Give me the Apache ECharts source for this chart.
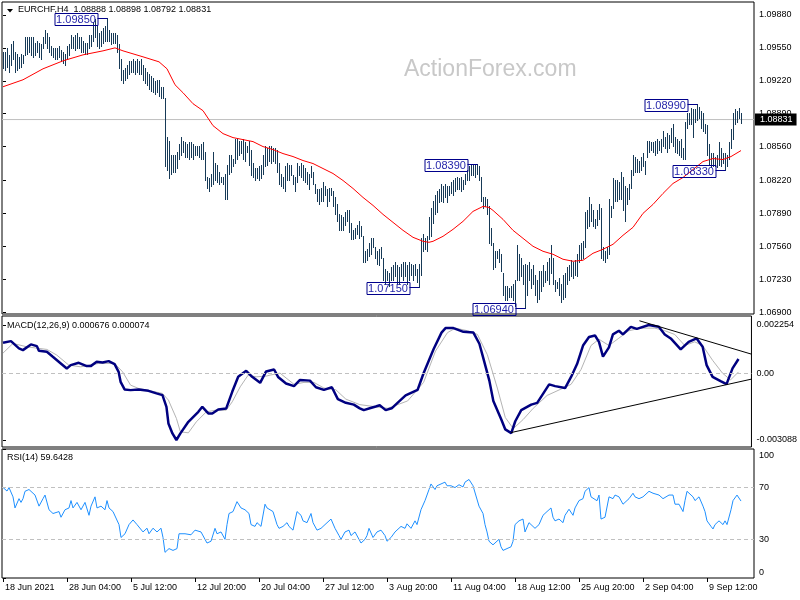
<!DOCTYPE html>
<html><head><meta charset="utf-8">
<script src="https://cdn.jsdelivr.net/npm/echarts@6/dist/echarts.min.js"></script>
<style>html,body{margin:0;padding:0;background:#fff}#chart{width:800px;height:600px}</style>
</head><body><div id="chart"></div>
<script>
// ---------------- DATA ----------------
const symbolName = 'EURCHF,H4';
const lastQuote = [1.08888, 1.08898, 1.08792, 1.08831]; // open high low close of last bar
const highs = [
1.0951,1.0951,1.0955,1.0948,1.0959,1.0962,1.0951,1.0949,1.0946,1.0949,
1.0948,1.0966,1.0966,1.0966,1.0966,1.0966,1.0960,1.0962,1.0960,1.0959,
1.0966,1.0973,1.0970,1.0966,1.0957,1.0955,1.0955,1.0955,1.0957,1.0953,
1.0951,1.0949,1.0957,1.0959,1.0968,1.0966,1.0968,1.0970,1.0966,1.0966,
1.0962,1.0960,1.0960,1.0968,1.0968,1.0981,1.0984,1.0977,1.0970,1.0972,
1.0975,1.0977,1.0985,1.0973,1.0970,1.0970,1.0970,1.0968,1.0959,1.0944,
1.0933,1.0935,1.0938,1.0942,1.0942,1.0944,1.0942,1.0944,1.0942,1.0944,
1.0938,1.0935,1.0931,1.0929,1.0927,1.0925,1.0922,1.0923,1.0923,1.0916,
1.0916,1.0905,1.0866,1.0862,1.0848,1.0848,1.0848,1.0851,1.0859,1.0866,
1.0862,1.0861,1.0859,1.0861,1.0861,1.0859,1.0857,1.0857,1.0857,1.0859,
1.0861,1.0851,1.0825,1.0824,1.0829,1.0851,1.0840,1.0838,1.0831,1.0825,
1.0825,1.0829,1.0838,1.0848,1.0848,1.0844,1.0864,1.0864,1.0862,1.0862,
1.0864,1.0861,1.0857,1.0862,1.0853,1.0840,1.0835,1.0835,1.0837,1.0838,
1.0848,1.0857,1.0855,1.0857,1.0857,1.0855,1.0855,1.0853,1.0840,1.0829,
1.0825,1.0837,1.0840,1.0838,1.0838,1.0827,1.0825,1.0840,1.0837,1.0840,
1.0838,1.0835,1.0831,1.0829,1.0837,1.0831,1.0818,1.0813,1.0813,1.0814,
1.0820,1.0816,1.0813,1.0814,1.0814,1.0811,1.0805,1.0798,1.0788,1.0787,
1.0785,1.0790,1.0792,1.0792,1.0779,1.0772,1.0774,1.0777,1.0781,1.0776,
1.0766,1.0751,1.0753,1.0759,1.0764,1.0764,1.0755,1.0751,1.0753,1.0755,
1.0744,1.0733,1.0731,1.0729,1.0735,1.0737,1.0740,1.0737,1.0735,1.0738,
1.0740,1.0740,1.0737,1.0740,1.0738,1.0737,1.0738,1.0733,1.0738,1.0764,
1.0768,1.0764,1.0766,1.0785,1.0794,1.0801,1.0807,1.0811,1.0813,1.0818,
1.0816,1.0818,1.0816,1.0816,1.0820,1.0822,1.0824,1.0825,1.0824,1.0825,
1.0822,1.0829,1.0833,1.0837,1.0838,1.0838,1.0838,1.0839,1.0837,1.0825,
1.0805,1.0805,1.0803,1.0796,1.0774,1.0759,1.0751,1.0751,1.0753,1.0748,
1.0729,1.0716,1.0716,1.0714,1.0716,1.0718,1.0722,1.0757,1.0748,1.0744,
1.0737,1.0738,1.0737,1.0740,1.0733,1.0737,1.0727,1.0722,1.0731,1.0731,
1.0737,1.0731,1.0740,1.0744,1.0757,1.0744,1.0722,1.0720,1.0724,1.0718,
1.0727,1.0729,1.0735,1.0737,1.0742,1.0740,1.0742,1.0748,1.0757,1.0759,
1.0761,1.0790,1.0792,1.0805,1.0798,1.0792,1.0783,1.0792,1.0798,1.0794,
1.0755,1.0751,1.0755,1.0803,1.0796,1.0824,1.0822,1.0822,1.0820,1.0831,
1.0825,1.0816,1.0814,1.0818,1.0833,1.0848,1.0846,1.0844,1.0842,1.0846,
1.0850,1.0842,1.0862,1.0862,1.0861,1.0861,1.0862,1.0864,1.0862,1.0864,
1.0872,1.0866,1.0870,1.0868,1.0875,1.0879,1.0866,1.0864,1.0862,1.0864,
1.0855,1.0881,1.0890,1.0890,1.0895,1.0894,1.0894,1.0899,1.0896,1.0892,
1.0890,1.0879,1.0878,1.0859,1.0850,1.0850,1.0846,1.0848,1.0861,1.0855,
1.0850,1.0850,1.0848,1.0861,1.0874,1.0890,1.0894,1.0892,1.0895,1.08898
];
const lows = [
1.0935,1.0933,1.0936,1.0931,1.0938,1.0944,1.0931,1.0933,1.0935,1.0936,
1.0940,1.0948,1.0949,1.0951,1.0948,1.0946,1.0948,1.0951,1.0946,1.0944,
1.0955,1.0960,1.0955,1.0951,1.0948,1.0946,1.0944,1.0944,1.0946,1.0942,
1.0940,1.0938,1.0944,1.0948,1.0955,1.0955,1.0953,1.0955,1.0955,1.0951,
1.0951,1.0949,1.0949,1.0955,1.0957,1.0962,1.0966,1.0957,1.0955,1.0957,
1.0960,1.0962,1.0962,1.0962,1.0959,1.0960,1.0960,1.0951,1.0935,1.0923,
1.0920,1.0923,1.0925,1.0929,1.0931,1.0931,1.0929,1.0931,1.0929,1.0929,
1.0923,1.0920,1.0918,1.0914,1.0912,1.0911,1.0909,1.0911,1.0907,1.0905,
1.0905,1.0837,1.0833,1.0824,1.0829,1.0831,1.0831,1.0835,1.0844,1.0848,
1.0851,1.0846,1.0846,1.0844,1.0846,1.0844,1.0848,1.0848,1.0846,1.0844,
1.0844,1.0822,1.0814,1.0811,1.0816,1.0818,1.0822,1.0820,1.0818,1.0820,
1.0818,1.0803,1.0803,1.0829,1.0831,1.0837,1.0840,1.0844,1.0848,1.0850,
1.0844,1.0842,1.0851,1.0838,1.0827,1.0825,1.0822,1.0824,1.0822,1.0824,
1.0829,1.0837,1.0838,1.0842,1.0840,1.0842,1.0840,1.0831,1.0818,1.0816,
1.0814,1.0811,1.0822,1.0822,1.0827,1.0818,1.0811,1.0820,1.0827,1.0825,
1.0822,1.0820,1.0818,1.0813,1.0825,1.0818,1.0809,1.0801,1.0798,1.0801,
1.0801,1.0807,1.0796,1.0801,1.0807,1.0796,1.0788,1.0781,1.0772,1.0772,
1.0772,1.0777,1.0781,1.0770,1.0763,1.0763,1.0764,1.0768,1.0764,1.0766,
1.0740,1.0740,1.0742,1.0746,1.0748,1.0755,1.0744,1.0738,1.0737,1.0744,
1.0722,1.0718,1.0722,1.0716,1.0722,1.0722,1.0726,1.0718,1.0718,1.0726,
1.0722,1.0726,1.0718,1.0722,1.0727,1.0722,1.0727,1.0720,1.0715,1.0727,
1.0751,1.0753,1.0751,1.0763,1.0766,1.0779,1.0788,1.0790,1.0800,1.0801,
1.0800,1.0805,1.0800,1.0807,1.0809,1.0807,1.0811,1.0813,1.0813,1.0811,
1.0813,1.0818,1.0822,1.0822,1.0827,1.0827,1.0825,1.0829,1.0822,1.0801,
1.0794,1.0796,1.0788,1.0759,1.0757,1.0733,1.0735,1.0744,1.0740,1.0731,
1.0707,1.0702,1.0702,1.0705,1.0705,1.0702,1.0696,1.0722,1.0722,1.0726,
1.0718,1.0694,1.0707,1.0722,1.0714,1.0718,1.0707,1.0700,1.0703,1.0711,
1.0716,1.0720,1.0722,1.0718,1.0729,1.0718,1.0711,1.0714,1.0707,1.0700,
1.0703,1.0705,1.0718,1.0722,1.0726,1.0724,1.0727,1.0726,1.0740,1.0742,
1.0744,1.0755,1.0774,1.0776,1.0781,1.0776,1.0774,1.0777,1.0783,1.0744,
1.0742,1.0740,1.0744,1.0748,1.0785,1.0794,1.0801,1.0801,1.0803,1.0803,
1.0792,1.0781,1.0798,1.0803,1.0814,1.0827,1.0831,1.0831,1.0831,1.0833,
1.0837,1.0829,1.0846,1.0851,1.0853,1.0851,1.0848,1.0850,1.0853,1.0851,
1.0857,1.0855,1.0851,1.0855,1.0861,1.0857,1.0851,1.0850,1.0848,1.0846,
1.0844,1.0844,1.0875,1.0879,1.0879,1.0866,1.0881,1.0883,1.0885,1.0875,
1.0872,1.0870,1.0848,1.0838,1.0836,1.0837,1.0837,1.0836,1.0838,1.0837,
1.0840,1.0833,1.0837,1.0844,1.0855,1.0864,1.0879,1.0881,1.0885,1.08792
];
// moving average (red), [bar index, price]
const maPoints = [[0,1.0916],[10,1.0923],[20,1.0934],[30,1.0942],[40,1.0948],[50,1.0952],[56,1.0955],[60,1.0952],[70,1.0946],[78,1.0941],[82,1.0934],[86,1.0918],[90,1.0910],[95,1.0899],[100,1.0892],[105,1.0877],[110,1.0869],[115,1.0865],[120,1.0863],[125,1.0861],[130,1.0856],[135,1.0853],[140,1.0849],[145,1.0846],[150,1.0842],[155,1.0839],[160,1.0834],[165,1.0829],[170,1.0822],[175,1.0814],[180,1.0805],[185,1.0797],[190,1.0788],[195,1.0780],[200,1.0772],[205,1.0765],[210,1.0761],[213,1.0760],[215,1.0761],[220,1.0766],[225,1.0773],[230,1.0781],[235,1.0791],[240,1.0796],[243,1.0795],[245,1.0792],[250,1.0783],[255,1.0772],[260,1.0764],[265,1.0756],[270,1.0751],[275,1.0748],[280,1.0743],[285,1.0741],[290,1.0742],[295,1.0749],[300,1.0753],[305,1.0758],[310,1.0767],[315,1.0775],[320,1.0789],[325,1.0798],[330,1.0809],[335,1.0819],[340,1.0825],[345,1.0833],[350,1.0841],[355,1.0844],[360,1.0843],[364,1.0846],[369,1.0852]];
// MACD main and signal, [bar index, value]
const macdMain = [[0,0.001426],[4,0.001505],[8,0.001166],[10,0.001087],[14,0.001352],[17,0.001273],[18,0.001054],[22,0.001008],[25,0.000776],[29,0.000469],[32,0.000237],[34,0.000390],[38,0.000497],[42,0.000344],[44,0.000344],[47,0.000543],[50,0.000516],[53,0.000576],[56,0.000437],[58,0.000079],[59,-0.000386],[61,-0.000739],[64,-0.000771],[68,-0.000739],[73,-0.000804],[77,-0.000924],[80,-0.001003],[82,-0.001547],[83,-0.002318],[85,-0.002782],[87,-0.003088],[89,-0.002782],[93,-0.002244],[98,-0.001779],[100,-0.001547],[103,-0.001853],[105,-0.001853],[108,-0.001668],[112,-0.001621],[115,-0.000850],[118,-0.000153],[122,0.000125],[125,-0.000153],[129,-0.000432],[132,0.000098],[136,0.000186],[138,-0.000158],[142,-0.000465],[146,-0.000585],[149,-0.000297],[154,-0.000330],[157,-0.000636],[161,-0.000757],[165,-0.000636],[168,-0.001189],[172,-0.001361],[176,-0.001445],[179,-0.001616],[181,-0.001700],[184,-0.001616],[187,-0.001533],[189,-0.001477],[192,-0.001700],[195,-0.001616],[199,-0.001273],[202,-0.001017],[208,-0.000757],[211,0.000014],[216,0.001129],[220,0.001900],[222,0.002109],[226,0.002109],[231,0.001937],[236,0.001900],[239,0.001384],[241,0.000701],[244,-0.000330],[246,-0.001273],[250,-0.002132],[252,-0.002597],[255,-0.002768],[257,-0.002216],[260,-0.001700],[265,-0.001445],[268,-0.001361],[274,-0.000502],[277,-0.000585],[282,-0.000674],[285,-0.000158],[288,0.000441],[291,0.001301],[294,0.001695],[297,0.001765],[299,0.001472],[301,0.000785],[304,0.001217],[306,0.001816],[309,0.001988],[311,0.001816],[315,0.002169],[318,0.002072],[324,0.002254],[329,0.002169],[332,0.001816],[335,0.001630],[340,0.001119],[344,0.001472],[348,0.001630],[351,0.001240],[353,0.000390],[356,-0.000153],[360,-0.000353],[363,-0.000492],[366,0.000237],[369,0.000676]];
const macdSignal = [[0,0.000948],[5,0.001398],[12,0.001240],[22,0.001119],[27,0.000855],[33,0.000390],[39,0.000311],[48,0.000469],[56,0.000469],[60,0.000079],[64,-0.000539],[68,-0.000692],[80,-0.000924],[83,-0.001236],[87,-0.002086],[89,-0.002708],[93,-0.002754],[97,-0.002244],[102,-0.001779],[107,-0.001700],[112,-0.001700],[115,-0.001315],[119,-0.000618],[123,-0.000074],[127,-0.000153],[132,-0.000121],[134,-0.000074],[139,0.000019],[146,-0.000502],[151,-0.000413],[156,-0.000413],[161,-0.000674],[167,-0.000757],[172,-0.001189],[179,-0.001445],[186,-0.001533],[193,-0.001616],[203,-0.001273],[211,-0.000413],[217,0.001045],[223,0.001900],[227,0.002109],[233,0.001988],[238,0.001816],[243,0.000873],[248,-0.000674],[252,-0.002044],[256,-0.002559],[261,-0.002132],[266,-0.001616],[273,-0.001017],[282,-0.000636],[285,-0.000502],[290,0.000186],[295,0.001301],[299,0.001593],[304,0.001301],[309,0.001644],[314,0.001988],[320,0.002109],[327,0.002109],[332,0.001988],[337,0.001816],[342,0.001301],[347,0.001472],[351,0.001301],[356,0.000613],[361,0.000014],[365,-0.000297],[369,0.000074]];
const macdTrendUpper = [[319.3,0.00245],[375.5,0.0009]];
const macdTrendLower = [[254.8,-0.002745],[375.5,-0.00026]];
// RSI(14), [bar index, value]
const rsiPoints = [[0,70.2],[2,67.4],[3,70.1],[4,68.6],[5,62.9],[6,54.3],[8,61.5],[9,58.6],[10,61.5],[11,67.2],[13,68.6],[14,67.2],[16,64.3],[17,65.7],[18,55.7],[20,61.5],[21,64.3],[23,52.9],[25,50.0],[28,51.5],[29,47.1],[31,52.9],[33,54.3],[34,60.0],[35,54.3],[37,58.6],[39,52.9],[41,58.6],[43,48.6],[44,55.7],[46,62.9],[47,54.3],[49,55.7],[51,52.9],[52,60.0],[53,54.3],[55,51.5],[56,52.9],[58,41.4],[59,31.4],[61,34.3],[63,41.4],[64,42.9],[65,45.0],[67,41.4],[68,42.9],[70,35.7],[72,38.6],[73,34.3],[75,38.6],[77,35.7],[79,38.6],[80,31.4],[81,19.9],[83,22.8],[85,21.4],[87,22.8],[88,34.3],[91,34.3],[92,35.4],[94,33.5],[96,37.1],[99,35.7],[100,34.3],[102,27.1],[103,25.7],[104,28.5],[106,38.5],[107,34.3],[109,35.7],[111,30.0],[112,41.4],[113,50.0],[115,51.5],[117,59.2],[119,54.3],[121,52.9],[123,50.0],[124,41.4],[126,40.0],[127,42.9],[129,40.0],[131,57.2],[132,54.3],[135,51.5],[137,41.4],[138,38.5],[140,40.0],[142,42.9],[143,40.0],[145,37.1],[147,51.5],[149,48.6],[150,44.3],[152,42.9],[154,50.0],[155,42.9],[157,37.1],[159,38.5],[161,41.4],[162,40.0],[164,45.7],[166,38.5],[168,32.9],[169,30.0],[171,35.7],[173,37.1],[174,32.9],[176,35.7],[177,34.3],[179,27.1],[181,30.0],[182,32.9],[183,38.5],[185,31.4],[187,35.7],[189,37.1],[191,32.9],[192,28.5],[194,31.4],[196,35.7],[197,34.3],[199,40.0],[201,38.5],[202,42.0],[204,38.5],[206,44.3],[207,41.4],[208,41.0],[209,53.0],[211,60.0],[213,68.6],[214,72.9],[216,68.6],[217,71.5],[219,72.9],[221,74.3],[222,71.5],[224,71.5],[225,72.9],[226,70.1],[228,72.3],[230,70.6],[231,74.3],[233,76.4],[235,71.5],[236,72.9],[238,55.7],[240,50.0],[241,41.4],[242,35.7],[243,28.5],[245,25.7],[246,27.1],[248,30.0],[249,24.2],[250,21.4],[252,22.8],[254,24.2],[255,28.5],[256,41.4],[258,44.3],[259,43.7],[260,45.7],[261,35.7],[263,42.9],[264,41.4],[266,38.5],[268,41.4],[270,48.6],[271,47.1],[272,51.5],[274,54.3],[275,47.1],[276,44.3],[278,45.7],[280,42.9],[281,48.6],[283,53.3],[285,48.6],[286,54.3],[288,60.0],[290,61.5],[291,67.2],[293,70.1],[294,62.9],[295,64.3],[297,59.9],[298,64.3],[299,45.7],[301,47.1],[303,62.9],[305,61.5],[306,64.3],[308,62.9],[310,57.2],[311,58.6],[313,61.5],[315,65.7],[316,62.9],[318,61.5],[320,62.9],[321,64.3],[323,67.2],[325,65.7],[326,64.3],[328,64.3],[330,61.5],[331,61.5],[333,64.3],[335,64.3],[336,57.2],[338,57.2],[340,51.5],[341,60.0],[342,67.2],[343,67.2],[345,62.9],[346,60.0],[348,62.9],[350,55.7],[351,51.5],[352,44.3],[354,40.0],[355,38.0],[356,41.4],[358,44.3],[360,41.4],[361,44.3],[362,41.4],[364,52.9],[365,60.0],[367,64.3],[368,62.9],[369,59.6428]];
const rsiLast = 59.6428;
const macdLast = [0.000676, 0.000074];
const rsiLevels = [30, 70];
// marked extremes [bar index, price]
const extremes = [[52,1.0985],[208,1.0715],[237,1.0839],[261,1.0694],[347,1.0899],[361,1.0833]];
// axes ticks
const priceTicks = [1.0690,1.0723,1.0756,1.0789,1.0822,1.0856,1.0889,1.0922,1.0955,1.0988];
const macdTicks = [-0.003088, 0, 0.002254];
const rsiTicks = [0, 30, 70, 100];
const xTickIndex = [0,32,64,96,128,160,192,224,256,288,320,352];
const xTickLabels = ['18 Jun 2021','28 Jun 04:00','5 Jul 12:00','12 Jul 20:00','20 Jul 04:00','27 Jul 12:00','3 Aug 20:00','11 Aug 04:00','18 Aug 12:00','25 Aug 20:00','2 Sep 04:00','9 Sep 12:00'];

// ---------------- CHART ----------------
const FONT = '"Liberation Sans", Arial, sans-serif';
const BAR = '#173a57';
const PRICE_RANGE = [1.06881, 1.10010];
const MACD_RANGE = [-0.003413, 0.002672];
const X_RANGE = [-0.5, 375.5];

function xAxisFor(g, show) {
  return {
    type: 'value', gridIndex: g, min: X_RANGE[0], max: X_RANGE[1],
    axisLine: {show: false}, splitLine: {show: false},
    axisTick: {show: show, customValues: xTickIndex, length: 4, lineStyle: {color: '#000'}},
    axisLabel: {show: show, customValues: xTickIndex, align: 'left', margin: 5, padding: [0,0,0,2],
      color: '#000', fontSize: 9, fontFamily: FONT,
      formatter: v => { const k = xTickIndex.indexOf(Math.round(v)); return k >= 0 ? xTickLabels[k] : ''; }}
  };
}
function yAxisFor(g, range, ticks, fmt, labelExtra) {
  return {
    type: 'value', gridIndex: g, position: 'right', min: range[0], max: range[1], scale: true,
    axisLine: {show: false}, splitLine: {show: false},
    axisTick: {show: true, customValues: ticks, length: 3, lineStyle: {color: '#000'}},
    axisLabel: Object.assign({customValues: ticks, formatter: fmt, margin: 5, color: '#000', fontSize: 9, fontFamily: FONT}, labelExtra || {})
  };
}

const barData = highs.map((h, i) => [i, lows[i], h]);

const chart = echarts.init(document.getElementById('chart'), null, {renderer: 'canvas'});
chart.setOption({
  animation: false,
  backgroundColor: '#fff',
  grid: [
    {left: 2, top: 2, width: 752, height: 312, show: true, borderColor: '#000', borderWidth: 1},
    {left: 2, top: 316, width: 752, height: 131, show: true, borderColor: '#000', borderWidth: 1},
    {left: 2, top: 449, width: 752, height: 129, show: true, borderColor: '#000', borderWidth: 1}
  ],
  xAxis: [xAxisFor(0, false), xAxisFor(1, false), xAxisFor(2, true)],
  yAxis: [
    yAxisFor(0, PRICE_RANGE, priceTicks, v => v.toFixed(5)),
    yAxisFor(1, MACD_RANGE, macdTicks, v => (Math.abs(v) < 1e-12 ? '0.00' : v.toFixed(6))),
    yAxisFor(2, [0, 100], rsiTicks, v => {
      const r = Math.round(v);
      if (r === 100) return '{t|100}';
      if (r === 0) return '{b|0}';
      return String(r);
    }, {rich: {
      t: {padding: [13, 0, 0, 0], fontSize: 9, fontFamily: FONT, color: '#000'},
      b: {padding: [0, 0, 11, 0], fontSize: 9, fontFamily: FONT, color: '#000'}
    }}),
    {type: 'value', gridIndex: 0, position: 'right', min: PRICE_RANGE[0], max: PRICE_RANGE[1], scale: true,
     axisLine: {show: false}, splitLine: {show: false}, axisTick: {show: false},
     axisLabel: {customValues: [lastQuote[3]], formatter: v => v.toFixed(5), margin: 1,
       color: '#fff', backgroundColor: '#000', padding: [2, 4, 1, 5], fontSize: 9, fontFamily: FONT}}
  ],
  graphic: [
    {type: 'text', x: 404, y: 70, z: -10, silent: true,
     style: {text: 'ActionForex.com', fill: '#c8c8c8', font: '23px ' + FONT, verticalAlign: 'middle'}},
    {type: 'polygon', shape: {points: [[7, 9], [13, 9], [10, 12.5]]}, style: {fill: '#000'}},
    {type: 'text', x: 18, y: 10,
     style: {text: symbolName + '  ' + lastQuote.map(v => v.toFixed(5)).join(' '), fill: '#000', font: '9px ' + FONT, verticalAlign: 'middle'}},
    {type: 'text', x: 7, y: 326,
     style: {text: 'MACD(12,26,9) ' + macdLast.map(v => v.toFixed(6)).join(' '), fill: '#000', font: '9px ' + FONT, verticalAlign: 'middle'}},
    {type: 'text', x: 7, y: 458,
     style: {text: 'RSI(14) ' + rsiLast.toFixed(4), fill: '#000', font: '9px ' + FONT, verticalAlign: 'middle'}}
  ],
  series: [
    {
      type: 'line', name: 'lastPrice', xAxisIndex: 0, yAxisIndex: 0, silent: true, showSymbol: false,
      data: [[X_RANGE[0], lastQuote[3]], [X_RANGE[1], lastQuote[3]]],
      lineStyle: {color: '#c0c0c0', width: 1}, z: 1
    },
    {
      type: 'custom', name: 'bars', xAxisIndex: 0, yAxisIndex: 0, data: barData, silent: true,
      encode: {x: 0, y: [1, 2]},
      renderItem: (params, api) => {
        const top = api.coord([api.value(0), api.value(2)]);
        const bot = api.coord([api.value(0), api.value(1)]);
        const x = Math.round(top[0]) + 0.5;
        return {type: 'line', shape: {x1: x, y1: Math.round(top[1]), x2: x, y2: Math.round(bot[1]) + 1},
          style: {stroke: BAR, lineWidth: 1}};
      },
      z: 2
    },
    {
      type: 'line', name: 'MA', xAxisIndex: 0, yAxisIndex: 0, data: maPoints, showSymbol: false, silent: true,
      lineStyle: {color: '#ff0000', width: 1}, z: 3
    },
    {
      type: 'custom', name: 'extremes', xAxisIndex: 0, yAxisIndex: 0, data: extremes, silent: true, clip: false,
      encode: {x: 0, y: 1},
      renderItem: (params, api) => {
        const p = api.coord([api.value(0), api.value(1)]);
        const bx = Math.round(p[0]) + 0.5, by = Math.round(p[1]) + 0.5;
        const w = 43, h = 12, gap = 10;
        return {type: 'group', children: [
          {type: 'line', shape: {x1: bx - gap, y1: by, x2: bx, y2: by}, style: {stroke: '#00008b', lineWidth: 1}},
          {type: 'rect', shape: {x: Math.round(bx - gap - w), y: Math.round(by - h / 2) + 0.5, width: w, height: h},
            style: {fill: 'rgba(255,255,255,0)', stroke: '#00008b', lineWidth: 1}},
          {type: 'text', style: {x: bx - gap - w / 2, y: by + 1, text: api.value(1).toFixed(5), align: 'center',
            verticalAlign: 'middle', fill: '#1f1fa8', font: '11px ' + FONT}}
        ]};
      },
      z: 5
    },
    {
      type: 'line', name: 'Signal', xAxisIndex: 1, yAxisIndex: 1, data: macdSignal, showSymbol: false, silent: true,
      lineStyle: {color: '#b4b4b4', width: 1}, z: 2,
      markLine: {silent: true, symbol: ['none', 'none'], label: {show: false},
        lineStyle: {color: '#c0c0c0', type: [4, 3], width: 1}, data: [{yAxis: 0}]}
    },
    {
      type: 'line', name: 'MACD', xAxisIndex: 1, yAxisIndex: 1, data: macdMain, showSymbol: false, silent: true,
      lineStyle: {color: '#000080', width: 2.5}, z: 3
    },
    {
      type: 'line', name: 'trendUpper', xAxisIndex: 1, yAxisIndex: 1, data: macdTrendUpper, showSymbol: false, silent: true,
      lineStyle: {color: '#000', width: 1}, z: 4
    },
    {
      type: 'line', name: 'trendLower', xAxisIndex: 1, yAxisIndex: 1, data: macdTrendLower, showSymbol: false, silent: true,
      lineStyle: {color: '#000', width: 1}, z: 4
    },
    {
      type: 'line', name: 'RSI', xAxisIndex: 2, yAxisIndex: 2, data: rsiPoints, showSymbol: false, silent: true,
      lineStyle: {color: '#1e90ff', width: 1}, z: 3,
      markLine: {silent: true, symbol: ['none', 'none'], label: {show: false},
        lineStyle: {color: '#c0c0c0', type: [4, 3], width: 1}, data: rsiLevels.map(v => ({yAxis: v}))}
    }
  ]
});
</script>
</body></html>
